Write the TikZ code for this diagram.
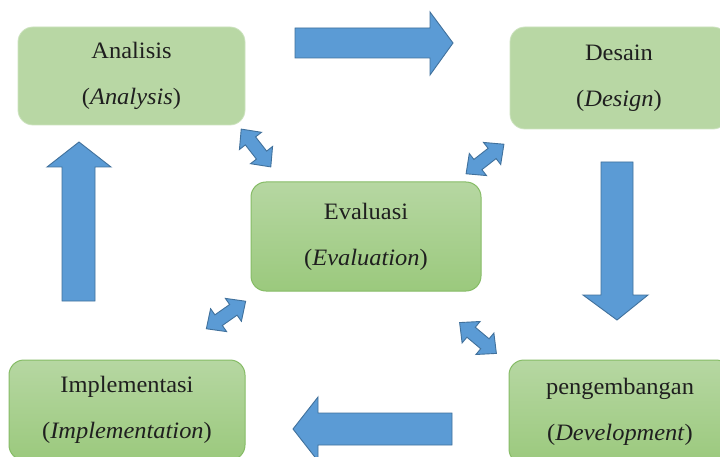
\documentclass[tikz,border=0pt]{standalone}
\usepackage{fontspec}
\setmainfont{Liberation Serif}[FakeStretch=1.04]
\usetikzlibrary{shapes.misc}
\definecolor{flatgreen}{HTML}{B8D7A4}
\definecolor{gtop}{HTML}{B6D7A2}
\definecolor{gbot}{HTML}{9BC97D}
\definecolor{gborder}{HTML}{86BC66}
\definecolor{afill}{HTML}{5B9BD5}
\definecolor{aborder}{HTML}{41719C}
\tikzset{
  box/.style={rectangle, rounded corners=15pt, align=center, inner sep=0pt,
    font=\fontsize{23.5}{46}\selectfont, text=black!88},
  flatbox/.style={box, fill=flatgreen, draw=flatgreen!70!white, line width=0.8pt},
  gradbox/.style={box, top color=gtop, bottom color=gbot, draw=gborder, line width=1pt},
  blockarrow/.style={fill=afill, draw=aborder, line width=0.9pt, line join=miter},
  dblarrow/.pic={
    \path[blockarrow] (-24,0) -- (-9,14) -- (-9,6.5) -- (9,6.5) -- (9,14) -- (24,0)
      -- (9,-14) -- (9,-6.5) -- (-9,-6.5) -- (-9,-14) -- cycle;
  }
}
\begin{document}
\begin{tikzpicture}[x=1pt,y=1pt]
\useasboundingbox (0,0) rectangle (720,-457);
\fill[white] (0,0) rectangle (720,-457);

% boxes
\node[flatbox, minimum width=227pt, minimum height=98pt] (ana) at (131.5,-76)
  {Analisis\\(\textit{Analysis})};
\node[flatbox, minimum width=218pt, minimum height=102pt] (des) at (619,-78)
  {Desain\\(\textit{Design})};
\node[gradbox, minimum width=230pt, minimum height=109pt] (eva) at (366,-236.5)
  {Evaluasi\\(\textit{Evaluation})};
\node[gradbox, minimum width=236pt, minimum height=100pt] (imp) at (127,-410)
  {Implementasi\\(\textit{Implementation})};
\node[gradbox, minimum width=222pt, minimum height=104pt] (dev) at (620,-412)
  {pengembangan\\(\textit{Development})};

% big block arrows
\path[blockarrow] (295,-28) -- (430,-28) -- (430,-12) -- (453,-43) -- (430,-75)
  -- (430,-58) -- (295,-58) -- cycle;
\path[blockarrow] (601,-162) -- (633,-162) -- (633,-295) -- (648,-295) -- (617,-320)
  -- (583,-295) -- (601,-295) -- cycle;
\path[blockarrow] (452,-413) -- (318,-413) -- (318,-397) -- (293,-429) -- (318,-461)
  -- (318,-445) -- (452,-445) -- cycle;
\path[blockarrow] (62,-301) -- (62,-167) -- (47,-167) -- (79,-142) -- (111,-167)
  -- (95,-167) -- (95,-301) -- cycle;

% double arrows
\pic[rotate=-52] at (256,-148) {dblarrow};
\pic[rotate=38] at (485,-159) {dblarrow};
\pic[rotate=35] at (226,-315) {dblarrow};
\pic[rotate=-40] at (478,-338) {dblarrow};
\end{tikzpicture}
\end{document}
